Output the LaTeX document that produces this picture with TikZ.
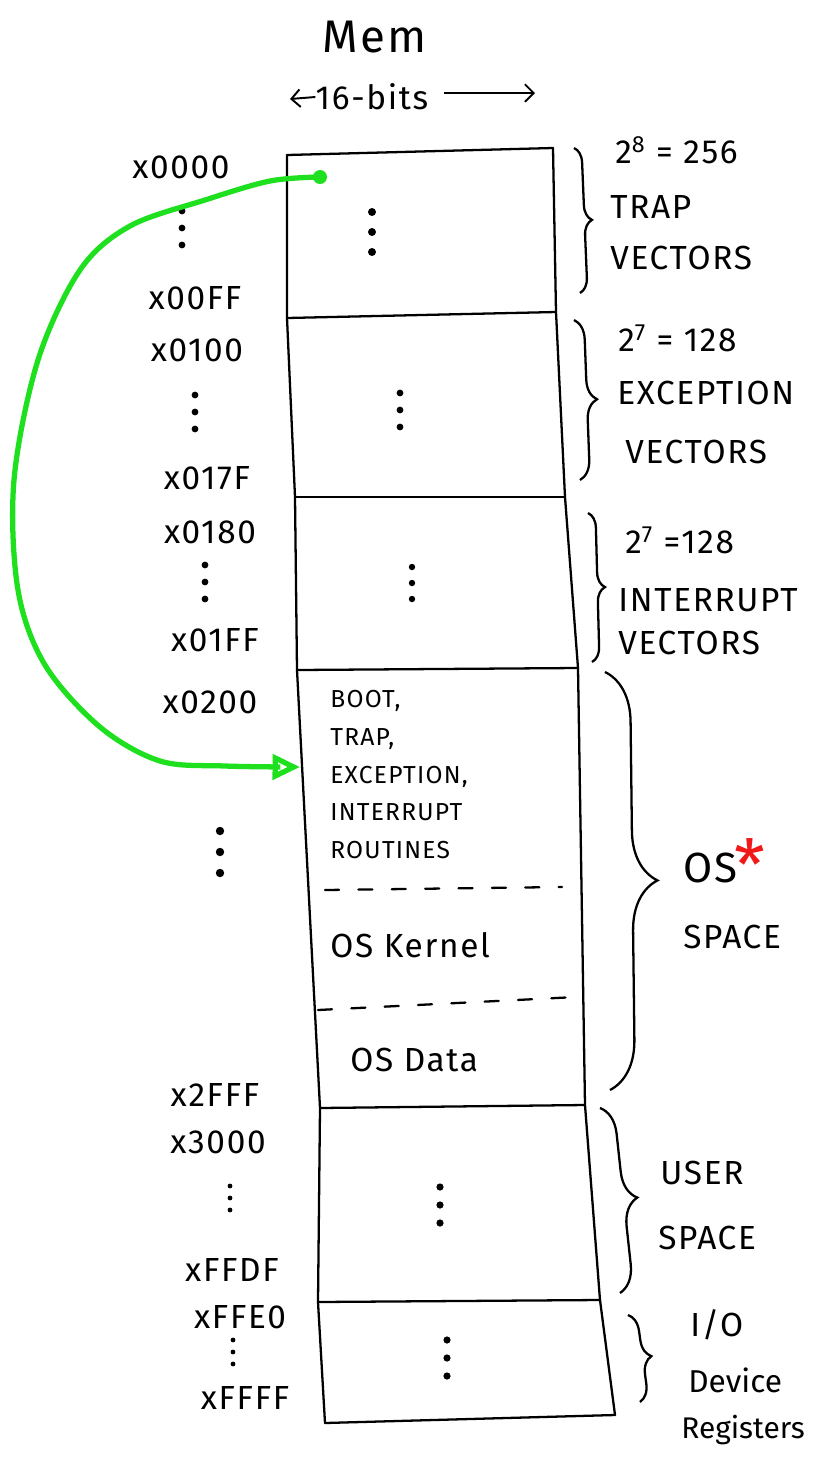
\documentclass[tikz,border=0pt]{standalone}
\usepackage{fontspec}
\setmainfont{Fira Sans}
\newfontfamily\handfont[LetterSpace=5]{Fira Sans}
\usetikzlibrary{arrows.meta,decorations.pathreplacing,positioning,calc}
\definecolor{markgreen}{HTML}{1FE01F}
\definecolor{markred}{HTML}{F01818}

\begin{document}
\begin{tikzpicture}[
    x=0.02cm,y=-0.02cm,
    memline/.style = {line width=1.3pt, line cap=round},
    sepline/.style = {memline, dash pattern=on 8pt off 11pt},
    addr/.style    = {font=\handfont\fontsize{19}{22}\selectfont, inner sep=0pt},
    lbl/.style     = {anchor=west, font=\handfont\fontsize{19}{22}\selectfont, inner sep=0pt},
    inlbl/.style   = {anchor=west, font=\handfont\fontsize{19}{22}\selectfont, inner sep=0pt},
    brc/.style     = {decorate, decoration={brace, amplitude=#1}, line width=1.3pt},
    jump/.style    = {markgreen, line width=3pt, line cap=round,
                      -{Triangle[open,length=0.55cm,width=0.5cm,line width=3pt]}},
  ]

  \tikzset{tridot/.pic={
      \fill (0,-20) circle (4);
      \fill (0,0)   circle (4);
      \fill (0,20)  circle (4);}}

  \useasboundingbox (0,0) rectangle (822,1458);

  % title and width
  \node[font=\handfont\fontsize{26}{30}\selectfont] (mem) at (375,37) {Mem};
  \node[addr] (bits) at (372,97) {16-bits};
  \coordinate (bitsl) at (290,99);
  \coordinate (bitsr) at (535,93);
  \draw[line width=1.1pt,-{Straight Barb[length=5pt]}] (bits.west) -- (bitsl);
  \draw[line width=1.1pt,-{Straight Barb[length=5pt]}] ($(bits.east)+(15,-4)$) -- (bitsr);

  % memory column
  \coordinate (L0) at (287,155);  \coordinate (R0) at (553,148);
  \coordinate (L1) at (287,318);  \coordinate (R1) at (556,312);
  \coordinate (L2) at (295,497);  \coordinate (R2) at (565,497);
  \coordinate (L3) at (297,670);  \coordinate (R3) at (578,668);
  \coordinate (L4) at (320,1108); \coordinate (R4) at (585,1105);
  \coordinate (L5) at (318,1302); \coordinate (R5) at (600,1300);
  \coordinate (L6) at (325,1423); \coordinate (R6) at (615,1415);

  \draw[memline] (L0) -- (L1) -- (L2) -- (L3) -- (L4) -- (L5) -- (L6);
  \draw[memline] (R0) -- (R1) -- (R2) -- (R3) -- (R4) -- (R5) -- (R6);
  \foreach \k in {0,...,6}
    \draw[memline] (L\k) -- (R\k);

  \coordinate (K1a) at (325,890);  \coordinate (K1b) at (562,887);
  \coordinate (K2a) at (318,1010); \coordinate (K2b) at (576,997);
  \draw[sepline] (K1a) -- (K1b);
  \draw[sepline] (K2a) -- (K2b);

  % contents
  \pic at (372,232) {tridot};
  \pic[scale=0.85] at (400,410) {tridot};
  \pic[scale=0.8] at (412,583) {tridot};
  \pic[scale=0.9] at (440,1205) {tridot};
  \pic[scale=0.9] at (447,1358) {tridot};

  \node[anchor=north west, align=left, inner sep=0pt,
        font=\handfont\fontsize{14}{21.5}\selectfont] (osrout) at (330,690)
       {BOOT,\\TRAP,\\EXCEPTION,\\INTERRUPT\\ROUTINES};
  \node[inlbl] (kernel) at (330,945) {OS Kernel};
  \node[inlbl] (osdata) at (350,1060) {OS Data};

  % addresses
  \node[addr] (a0000) at (181,167)  {x0000};
  \node[addr] (a00FF) at (195,298)  {x00FF};
  \node[addr] (a0100) at (197,350)  {x0100};
  \node[addr] (a017F) at (207,478)  {x017F};
  \node[addr] (a0180) at (210,532)  {x0180};
  \node[addr] (a01FF) at (215,640)  {x01FF};
  \node[addr] (a0200) at (210,702)  {x0200};
  \node[addr] (a2FFF) at (215,1095) {x2FFF};
  \node[addr] (a3000) at (218,1142) {x3000};
  \node[addr] (aFFDF) at (232,1270) {xFFDF};
  \node[addr] (aFFE0) at (240,1317) {xFFE0};
  \node[addr] (aFFFF) at (245,1398) {xFFFF};

  \pic[scale=0.85] at (182,228) {tridot};
  \pic[scale=0.85] at (195,412) {tridot};
  \pic[scale=0.85] at (205,582) {tridot};
  \pic[scale=1.05] at (220,852) {tridot};
  \pic[scale=0.6] at (230,1198) {tridot};
  \pic[scale=0.6] at (233,1352) {tridot};

  % braces
  \coordinate (b1t) at (574,148);  \coordinate (b1b) at (580,293);
  \coordinate (b2t) at (574,320);  \coordinate (b2b) at (580,480);
  \coordinate (b3t) at (588,513);  \coordinate (b3b) at (592,662);
  \coordinate (b4t) at (605,672);  \coordinate (b4b) at (610,1090);
  \coordinate (b5t) at (600,1108); \coordinate (b5b) at (620,1293);
  \coordinate (b6t) at (628,1315); \coordinate (b6b) at (640,1402);
  \draw[brc=0.3cm]  (b1t) -- (b1b);
  \draw[brc=0.4cm]  (b2t) -- (b2b);
  \draw[brc=0.3cm]  (b3t) -- (b3b);
  \draw[brc=1.0cm]  (b4t) -- (b4b);
  \draw[brc=0.55cm] (b5t) -- (b5b);
  \draw[brc=0.35cm] (b6t) -- (b6b);

  \node[lbl] (n256)  at (615,150) {2\textsuperscript{8} = 256};
  \node[lbl] (trap)  at (610,207) {TRAP};
  \node[lbl] (tvec)  at (610,258) {VECTORS};
  \node[lbl] (n128a) at (618,338) {2\textsuperscript{7} = 128};
  \node[lbl] (exc)   at (617,393) {EXCEPTION};
  \node[lbl] (evec)  at (625,452) {VECTORS};
  \node[lbl] (n128b) at (625,540) {2\textsuperscript{7} =128};
  \node[lbl] (intr)  at (618,600) {INTERRUPT};
  \node[lbl] (ivec)  at (618,643) {VECTORS};
  \node[lbl, font=\handfont\fontsize{24}{28}\selectfont] (os) at (683,868) {OS};
  \node[anchor=south west, inner sep=0pt, text=markred,
        font=\fontsize{40}{40}\selectfont] (star) at ([xshift=-2pt,yshift=-22pt]os.north east) {*};
  \node[lbl] (osspace) at (683,937)  {SPACE};
  \node[lbl] (user)    at (660,1173) {USER};
  \node[lbl] (uspace)  at (658,1238) {SPACE};
  \node[lbl] (io)      at (690,1325) {I/O};
  \node[lbl, font=\fontsize{18}{22}\selectfont] (dev)  at (688,1380) {Device};
  \node[lbl, font=\fontsize{17}{22}\selectfont] (regs) at (681,1430) {Registers};

  % trap vector points into the routines
  \coordinate (gstart) at (320,177);
  \coordinate (gend)   at (300,767);
  \fill[markgreen] (gstart) circle (7);
  \draw[jump] plot[smooth, tension=0.55] coordinates {(gstart) (270,181) (205,200)
        (130,226) (80,270) (38,360) (14,480) (18,590) (45,665) (100,727)
        (160,761) (225,766) (gend)};

\end{tikzpicture}
\end{document}
